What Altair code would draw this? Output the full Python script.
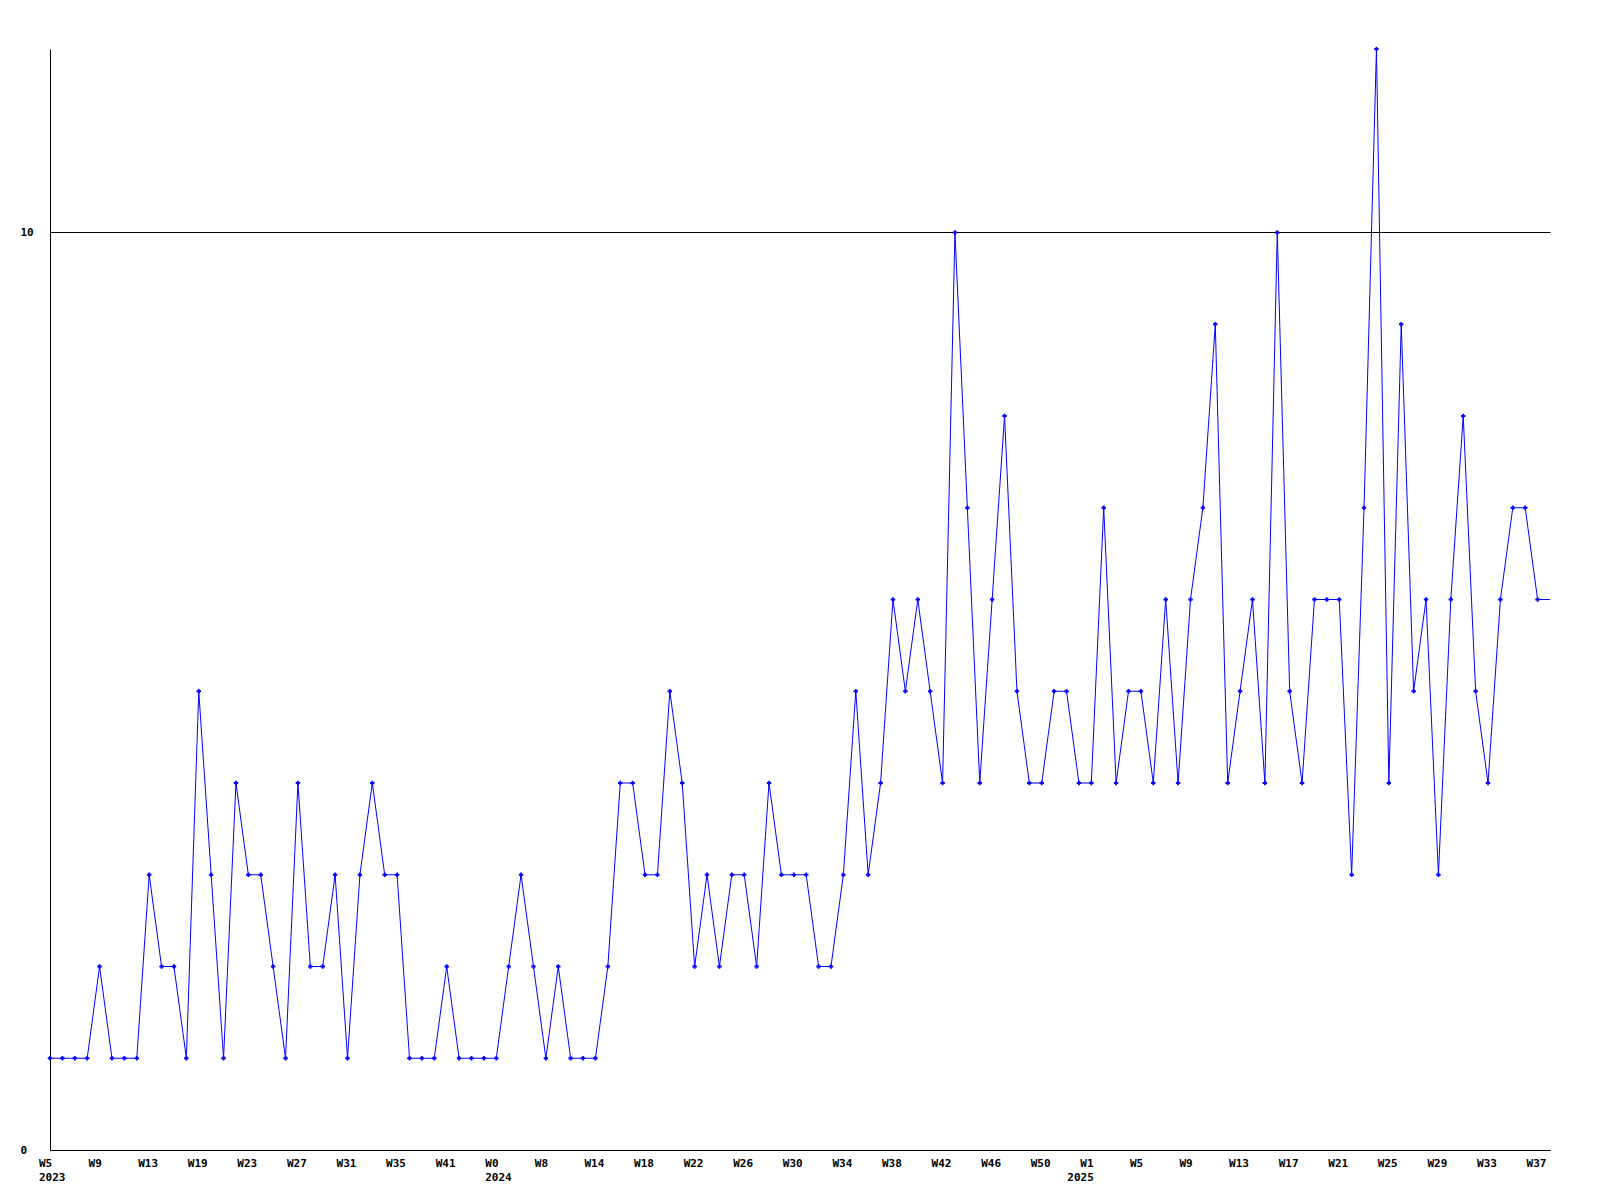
import altair as alt
import pandas as pd

# weekly counts (one value per week, last one is the running partial week)
values = [
    1, 1, 1, 1, 2, 1, 1, 1, 3, 2, 2, 1, 5, 3, 1, 4, 3, 3, 2, 1, 4, 2, 2, 3, 1, 3, 4, 3, 3, 1, 1, 1,
    2, 1, 1, 1, 1, 2, 3, 2, 1, 2, 1, 1, 1, 2, 4, 4, 3, 3, 5, 4, 2, 3, 2, 3, 3, 2, 4, 3, 3, 3, 2, 2, 3, 5, 3, 4,
    6, 5, 6, 5, 4, 10, 7, 4, 6, 8, 5, 4, 4, 5, 5, 4, 4, 7, 4, 5, 5, 4, 6, 4, 6, 7, 9, 4, 5,
    6, 4, 10, 5, 4, 6, 6, 6, 3, 7, 12, 4, 9, 5, 6, 3, 6, 8, 5, 4, 6, 7, 7, 6,
    6,
]
n_marked = 121  # the trailing partial week has no marker

# one week label every 4th point
week_labels = ["W5", "W9", "W13", "W19", "W23", "W27", "W31", "W35", "W41", "W0",
               "W8", "W14", "W18", "W22", "W26", "W30", "W34", "W38", "W42", "W46",
               "W50", "W1", "W5", "W9", "W13", "W17", "W21", "W25", "W29", "W33", "W37"]
week_label_idx = list(range(0, 121, 4))
year_labels = ["2023", "2024", "2025"]
year_label_pos = [-0.89, 35.11, 82.06]  # on the week-index scale

y_ticks = [0, 10]

df = pd.DataFrame({"i": list(range(len(values))), "v": values})
df["marked"] = df["i"] < n_marked
wk = pd.DataFrame({"pos": week_label_idx, "label": week_labels})
yr = pd.DataFrame({"pos": year_label_pos, "label": year_labels})

W, H = 1500, 1101
FONT = "DejaVu Sans Mono"
BLUE = "#0000ff"

xscale = alt.Scale(domain=[0, 121], nice=False, zero=False)
yscale = alt.Scale(domain=[0, 12], nice=False, zero=True)

x_enc = alt.X("i:Q", scale=xscale,
              axis=alt.Axis(labels=False, ticks=False, tickSize=0, grid=False, title=None,
                            domainColor="black", domainWidth=1))
y_enc = alt.Y("v:Q", scale=yscale,
              axis=alt.Axis(values=y_ticks, format="d", ticks=False, tickSize=0, grid=True,
                            gridColor="black", gridOpacity=1, gridWidth=1, title=None,
                            domainColor="black", domainWidth=1,
                            labelFont=FONT, labelFontSize=11, labelFontWeight="bold",
                            labelColor="black", labelAlign="left", labelPadding=30))

line = alt.Chart(df).mark_line(color=BLUE, strokeWidth=1).encode(x=x_enc, y=y_enc)
pts = alt.Chart(df).transform_filter("datum.marked").mark_point(
    shape="cross", filled=True, size=20, color=BLUE, opacity=1, strokeWidth=0
).encode(x=alt.X("i:Q", scale=xscale), y=alt.Y("v:Q", scale=yscale))

wk_text = alt.Chart(wk).mark_text(
    align="left", baseline="middle", font=FONT, fontSize=11, fontWeight="bold",
    color="black", dx=-11
).encode(x=alt.X("pos:Q", scale=xscale), y=alt.value(H + 13.5), text="label:N")

yr_text = alt.Chart(yr).mark_text(
    align="left", baseline="middle", font=FONT, fontSize=11, fontWeight="bold", color="black"
).encode(x=alt.X("pos:Q", scale=xscale), y=alt.value(H + 28), text="label:N")

chart = alt.layer(line, pts, wk_text, yr_text).properties(
    width=W, height=H,
    autosize=alt.AutoSizeParams(type="none"),
    padding={"left": 42, "top": 41, "right": 20, "bottom": 50},
    background="white",
).configure_view(stroke=None)

chart.save("out.html", embed_options={"renderer": "svg", "actions": False})
